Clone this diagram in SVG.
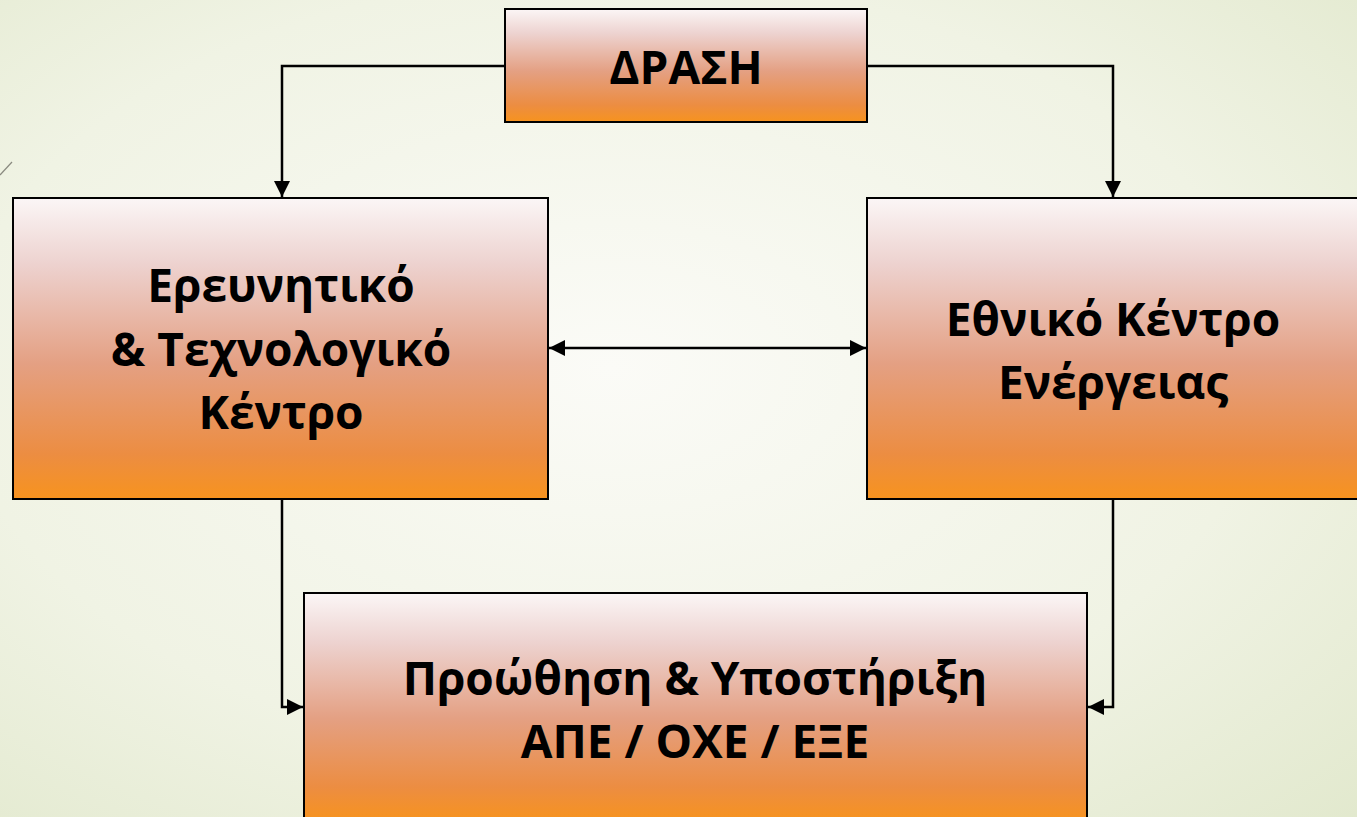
<svg xmlns="http://www.w3.org/2000/svg" width="1357" height="817" viewBox="0 0 1357 817">
<defs>
<radialGradient id="bg" cx="0.45" cy="0.45" r="0.8">
<stop offset="0" stop-color="#fbfbf7"/>
<stop offset="0.6" stop-color="#f0f3e4"/>
<stop offset="1" stop-color="#e1e8cc"/>
</radialGradient>
<linearGradient id="box" x1="0" y1="0" x2="0" y2="1">
<stop offset="0" stop-color="#fbf6f6"/>
<stop offset="0.22" stop-color="#edd2cf"/>
<stop offset="0.55" stop-color="#e4a083"/>
<stop offset="0.85" stop-color="#ec8d42"/>
<stop offset="1" stop-color="#f7931e"/>
</linearGradient>
<marker id="ah" viewBox="0 0 10 10" refX="10" refY="5" markerWidth="16" markerHeight="17" markerUnits="userSpaceOnUse" orient="auto-start-reverse">
<path d="M0,0 L10,5 L0,10 z" fill="#000"/>
</marker>
<style>
.node rect{stroke:#000;stroke-width:2;}
.node text{font-family:"Open Sans","Noto Sans","DejaVu Sans",sans-serif;font-weight:bold;font-size:46px;fill:#000;text-anchor:middle;}
.conn path{fill:none;stroke:#000;stroke-width:2.5;}
</style>
</defs>
<rect x="0" y="0" width="1357" height="817" fill="url(#bg)"/>
<line x1="0" y1="175" x2="12" y2="162" stroke="#8a8a80" stroke-width="1.2"/>
<g id="drasi" class="node">
<rect x="505" y="9" width="362" height="113" fill="url(#box)"/>
<text x="686" y="84">ΔΡΑΣΗ</text>
</g>
<g id="erevnitiko" class="node">
<rect x="13" y="198" width="535" height="301" fill="url(#box)"/>
<text x="281" y="302">Ερευνητικό</text>
<text x="281" y="366">&amp; Τεχνολογικό</text>
<text x="281" y="429">Κέντρο</text>
</g>
<g id="ethniko" class="node">
<rect x="867" y="198" width="500" height="301" fill="url(#box)"/>
<text x="1113" y="336">Εθνικό Κέντρο</text>
<text x="1113" y="399">Ενέργειας</text>
</g>
<g id="proothisi" class="node">
<rect x="304" y="593" width="783" height="228" fill="url(#box)"/>
<text x="695" y="695">Προώθηση &amp; Υποστήριξη</text>
<text x="695" y="758">ΑΠΕ / ΟΧΕ / ΕΞΕ</text>
</g>
<g id="connectors" class="conn">
<path d="M505,66 H282 V197" marker-end="url(#ah)"/>
<path d="M867,66 H1113 V197" marker-end="url(#ah)"/>
<path d="M549,348 H866" marker-start="url(#ah)" marker-end="url(#ah)"/>
<path d="M282,499 V707 H303" marker-end="url(#ah)"/>
<path d="M1113,499 V707 H1088" marker-end="url(#ah)"/>
</g>
</svg>
